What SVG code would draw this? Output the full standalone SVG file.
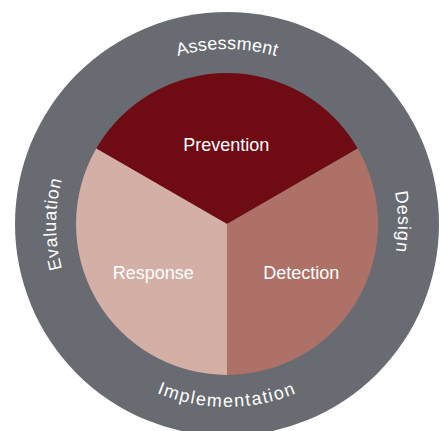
<svg xmlns="http://www.w3.org/2000/svg" width="440" height="431" viewBox="0 0 440 431">
  <style>
    .seg-label { font-family: "Liberation Sans", Arial, sans-serif; font-size: 18px; fill: #ffffff; text-anchor: middle; }
    .ring-label { font-family: "Liberation Sans", Arial, sans-serif; font-size: 18px; fill: #ffffff; text-anchor: middle; }
  </style>
  <defs>
    <!-- guide arcs for the ring labels, all centred on (227,224) -->
    <path id="arc-top" d="M 52 224 A 175 175 0 0 1 402 224"/>
    <path id="arc-bottom" d="M 44 224 A 183 183 0 0 0 410 224"/>
    <path id="arc-left" d="M 227 395 A 171 171 0 0 1 227 53"/>
    <path id="arc-right" d="M 227 53 A 171 171 0 0 1 227 395"/>
  </defs>
  <rect width="440" height="431" fill="#ffffff"/>

  <!-- outer process ring -->
  <g id="ring">
    <circle cx="227" cy="224" r="212" fill="#686b72"/>
  </g>

  <!-- inner pie: three 120° sectors -->
  <g id="prevention">
    <path d="M 227 224 L 96.23 148.5 A 151 151 0 0 1 357.77 148.5 Z" fill="#6e0b13"/>
    <text class="seg-label" x="226.3" y="151">Prevention</text>
  </g>
  <g id="detection">
    <path d="M 227 224 L 357.77 148.5 A 151 151 0 0 1 227 375 Z" fill="#ae7168"/>
    <text class="seg-label" x="301.3" y="279.3">Detection</text>
  </g>
  <g id="response">
    <path d="M 227 224 L 227 375 A 151 151 0 0 1 96.23 148.5 Z" fill="#d4afa6"/>
    <text class="seg-label" x="153.2" y="279.3">Response</text>
  </g>

  <!-- ring labels -->
  <g id="assessment">
    <text class="ring-label" letter-spacing="0.2"><textPath href="#arc-top" startOffset="50%">Assessment</textPath></text>
  </g>
  <g id="design">
    <text class="ring-label" letter-spacing="0.8"><textPath href="#arc-right" startOffset="49.6%">Design</textPath></text>
  </g>
  <g id="implementation">
    <text class="ring-label" letter-spacing="1.5"><textPath href="#arc-bottom" startOffset="50%">Implementation</textPath></text>
  </g>
  <g id="evaluation">
    <text class="ring-label" letter-spacing="0.7"><textPath href="#arc-left" startOffset="50%">Evaluation</textPath></text>
  </g>
</svg>
